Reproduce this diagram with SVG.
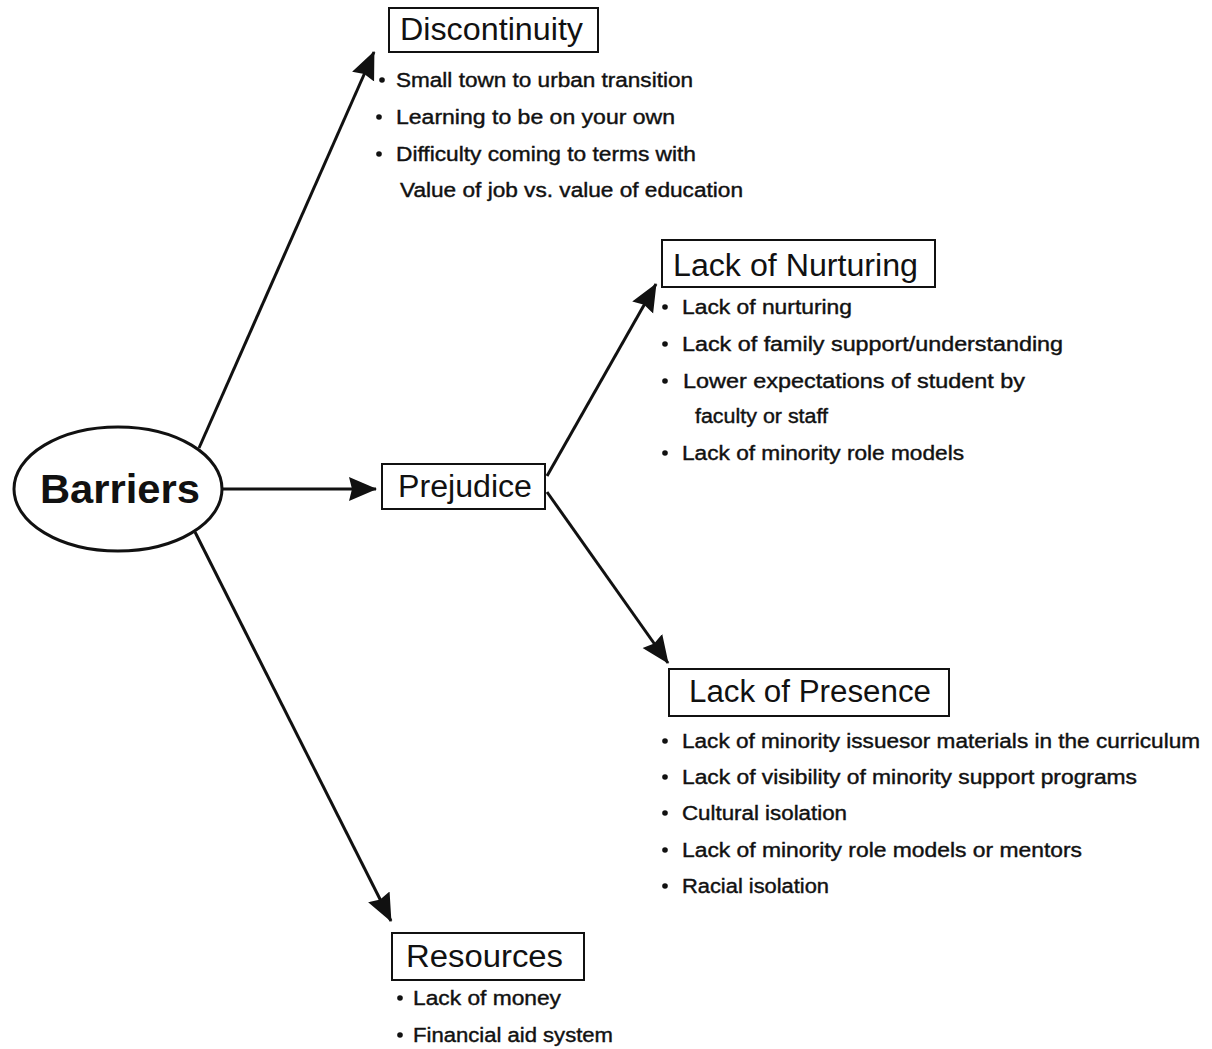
<svg xmlns="http://www.w3.org/2000/svg" width="1212" height="1049" viewBox="0 0 1212 1049">
<defs>
<style>
.box{fill:#fff;stroke:#111;stroke-width:2}
.h{font-family:"Liberation Sans",Arial,sans-serif;font-size:31px;fill:#111}
.b{font-family:"Liberation Sans",Arial,sans-serif;font-size:20px;fill:#111;stroke:#111;stroke-width:0.4}
.dot{fill:#111}
.edge{stroke:#111;stroke-width:3;fill:none;marker-end:url(#ah)}
</style>
<marker id="ah" markerUnits="userSpaceOnUse" markerWidth="30" markerHeight="26" refX="27" refY="12" orient="auto">
<polygon points="0,0 28,12 0,24 3,12" fill="#111"/>
</marker>
</defs>
<rect width="1212" height="1049" fill="#fff"/>
<g id="connectors">
<line class="edge" x1="199" y1="448" x2="374" y2="52"/>
<line class="edge" x1="222" y1="489" x2="376" y2="489"/>
<line class="edge" x1="195" y1="532" x2="391" y2="921"/>
<line class="edge" x1="547" y1="476" x2="656" y2="284"/>
<line class="edge" x1="547" y1="492" x2="668" y2="663"/>
</g>
<g id="barriers">
<ellipse cx="118" cy="489" rx="104" ry="62" fill="#fff" stroke="#111" stroke-width="3"/>
<text x="40" y="503" font-family="'Liberation Sans',Arial,sans-serif" font-size="40" font-weight="bold" fill="#111" textLength="160" lengthAdjust="spacingAndGlyphs">Barriers</text>
</g>
<g id="discontinuity">
<rect class="box" x="389" y="8" width="209" height="44"/>
<text class="h" x="400" y="40" textLength="183" lengthAdjust="spacingAndGlyphs">Discontinuity</text>
<circle class="dot" cx="382" cy="80" r="2.8"/>
<text class="b" x="396" y="87" textLength="297" lengthAdjust="spacingAndGlyphs">Small town to urban transition</text>
<circle class="dot" cx="379" cy="117" r="2.8"/>
<text class="b" x="396" y="124" textLength="279" lengthAdjust="spacingAndGlyphs">Learning to be on your own</text>
<circle class="dot" cx="379" cy="154" r="2.8"/>
<text class="b" x="396" y="161" textLength="300" lengthAdjust="spacingAndGlyphs">Difficulty coming to terms with</text>
<text class="b" x="400" y="197" textLength="343" lengthAdjust="spacingAndGlyphs">Value of job vs. value of education</text>
</g>
<g id="prejudice">
<rect class="box" x="382" y="464" width="163" height="45"/>
<text class="h" x="398" y="497" textLength="134" lengthAdjust="spacingAndGlyphs">Prejudice</text>
</g>
<g id="nurturing">
<rect class="box" x="662" y="240" width="273" height="47"/>
<text class="h" x="673" y="276" textLength="245" lengthAdjust="spacingAndGlyphs">Lack of Nurturing</text>
<circle class="dot" cx="665" cy="307" r="2.8"/>
<text class="b" x="682" y="314" textLength="170" lengthAdjust="spacingAndGlyphs">Lack of nurturing</text>
<circle class="dot" cx="665" cy="344" r="2.8"/>
<text class="b" x="682" y="351" textLength="381" lengthAdjust="spacingAndGlyphs">Lack of family support/understanding</text>
<circle class="dot" cx="665" cy="381" r="2.8"/>
<text class="b" x="683" y="388" textLength="342" lengthAdjust="spacingAndGlyphs">Lower expectations of student by</text>
<text class="b" x="695" y="423" textLength="133" lengthAdjust="spacingAndGlyphs">faculty or staff</text>
<circle class="dot" cx="665" cy="453" r="2.8"/>
<text class="b" x="682" y="460" textLength="282" lengthAdjust="spacingAndGlyphs">Lack of minority role models</text>
</g>
<g id="presence">
<rect class="box" x="669" y="669" width="280" height="47"/>
<text class="h" x="689" y="702" textLength="242" lengthAdjust="spacingAndGlyphs">Lack of Presence</text>
<circle class="dot" cx="665" cy="741" r="2.8"/>
<text class="b" x="682" y="748" textLength="518" lengthAdjust="spacingAndGlyphs">Lack of minority issuesor materials in the curriculum</text>
<circle class="dot" cx="665" cy="777" r="2.8"/>
<text class="b" x="682" y="784" textLength="455" lengthAdjust="spacingAndGlyphs">Lack of visibility of minority support programs</text>
<circle class="dot" cx="665" cy="813" r="2.8"/>
<text class="b" x="682" y="820" textLength="165" lengthAdjust="spacingAndGlyphs">Cultural isolation</text>
<circle class="dot" cx="665" cy="850" r="2.8"/>
<text class="b" x="682" y="857" textLength="400" lengthAdjust="spacingAndGlyphs">Lack of minority role models or mentors</text>
<circle class="dot" cx="665" cy="886" r="2.8"/>
<text class="b" x="682" y="893" textLength="147" lengthAdjust="spacingAndGlyphs">Racial isolation</text>
</g>
<g id="resources">
<rect class="box" x="392" y="933" width="192" height="47"/>
<text class="h" x="406" y="967" textLength="157" lengthAdjust="spacingAndGlyphs">Resources</text>
<circle class="dot" cx="400" cy="998" r="2.8"/>
<text class="b" x="413" y="1005" textLength="148" lengthAdjust="spacingAndGlyphs">Lack of money</text>
<circle class="dot" cx="400" cy="1035" r="2.8"/>
<text class="b" x="413" y="1042" textLength="200" lengthAdjust="spacingAndGlyphs">Financial aid system</text>
</g>
</svg>
